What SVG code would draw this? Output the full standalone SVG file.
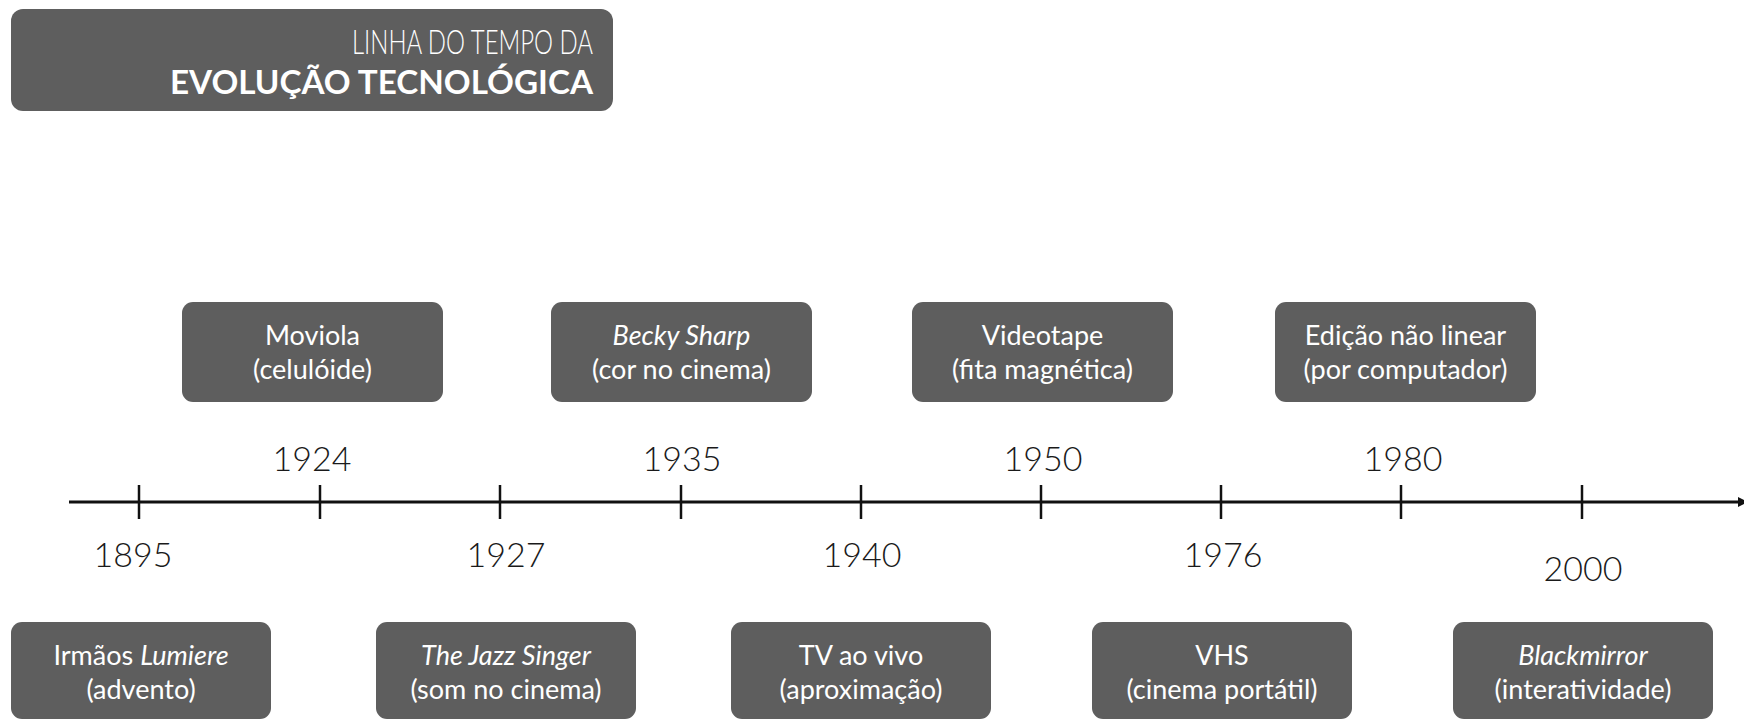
<svg xmlns="http://www.w3.org/2000/svg" width="1744" height="720" viewBox="0 0 1744 720">
<style>
.box{fill:#5e5e5e}
.bt{font-family:Lato,"Liberation Sans",sans-serif;font-size:27px;fill:#ffffff;text-anchor:middle}
.it{font-style:italic}
.yr{font-family:Lato,"Liberation Sans",sans-serif;font-weight:300;font-size:34px;fill:#1a1a1a;text-anchor:middle}
.tick{stroke:#111;stroke-width:2.5}
</style>
<defs>
<marker id="arr" markerWidth="10" markerHeight="10" refX="2" refY="5" orient="auto" markerUnits="userSpaceOnUse">
<path d="M0,0 L10,5 L0,10 Z" fill="#111"/>
</marker>
</defs>
<rect width="1744" height="720" fill="#ffffff"/>
<g id="title">
<rect class="box" x="11" y="9" width="602" height="102" rx="12"/>
<text x="593" y="54" font-family="Lato,'Liberation Sans',sans-serif" font-weight="300" font-size="33" fill="#fff" text-anchor="end" textLength="241" lengthAdjust="spacingAndGlyphs">LINHA DO TEMPO DA</text>
<text x="593" y="94" font-family="Lato,'Liberation Sans',sans-serif" font-weight="700" font-size="32" fill="#fff" text-anchor="end" textLength="423" lengthAdjust="spacingAndGlyphs">EVOLUÇÃO TECNOLÓGICA</text>
</g>
<g id="connectors">
<line x1="69" y1="502" x2="1740" y2="502" stroke="#111" stroke-width="3" marker-end="url(#arr)"/>
<line class="tick" x1="139" y1="485" x2="139" y2="519"/>
<line class="tick" x1="320" y1="485" x2="320" y2="519"/>
<line class="tick" x1="500" y1="485" x2="500" y2="519"/>
<line class="tick" x1="681" y1="485" x2="681" y2="519"/>
<line class="tick" x1="861" y1="485" x2="861" y2="519"/>
<line class="tick" x1="1041" y1="485" x2="1041" y2="519"/>
<line class="tick" x1="1221" y1="485" x2="1221" y2="519"/>
<line class="tick" x1="1401" y1="485" x2="1401" y2="519"/>
<line class="tick" x1="1582" y1="485" x2="1582" y2="519"/>
</g>
<g id="years">
<text class="yr" x="312" y="471">1924</text>
<text class="yr" x="682" y="471">1935</text>
<text class="yr" x="1043" y="471">1950</text>
<text class="yr" x="1403" y="471">1980</text>
<text class="yr" x="133" y="567">1895</text>
<text class="yr" x="506" y="567">1927</text>
<text class="yr" x="862" y="567">1940</text>
<text class="yr" x="1223" y="567">1976</text>
<text class="yr" x="1583" y="581">2000</text>
</g>
<g id="n1924">
<rect class="box" x="182" y="302" width="261" height="100" rx="11"/>
<text class="bt" x="312.5" y="345">Moviola</text>
<text class="bt" x="312.5" y="379">(celulóide)</text>
</g>
<g id="n1935">
<rect class="box" x="551" y="302" width="261" height="100" rx="11"/>
<text class="bt it" x="681.5" y="345">Becky Sharp</text>
<text class="bt" x="681.5" y="379">(cor no cinema)</text>
</g>
<g id="n1950">
<rect class="box" x="912" y="302" width="261" height="100" rx="11"/>
<text class="bt" x="1042.5" y="345">Videotape</text>
<text class="bt" x="1042.5" y="379">(fita magnética)</text>
</g>
<g id="n1980">
<rect class="box" x="1275" y="302" width="261" height="100" rx="11"/>
<text class="bt" x="1405.5" y="345">Edição não linear</text>
<text class="bt" x="1405.5" y="379">(por computador)</text>
</g>
<g id="n1895">
<rect class="box" x="11" y="622" width="260" height="97" rx="11"/>
<text class="bt" x="141" y="665">Irmãos <tspan class="it">Lumiere</tspan></text>
<text class="bt" x="141" y="699">(advento)</text>
</g>
<g id="n1927">
<rect class="box" x="376" y="622" width="260" height="97" rx="11"/>
<text class="bt it" x="506" y="665">The Jazz Singer</text>
<text class="bt" x="506" y="699">(som no cinema)</text>
</g>
<g id="n1940">
<rect class="box" x="731" y="622" width="260" height="97" rx="11"/>
<text class="bt" x="861" y="665">TV ao vivo</text>
<text class="bt" x="861" y="699">(aproximação)</text>
</g>
<g id="n1976">
<rect class="box" x="1092" y="622" width="260" height="97" rx="11"/>
<text class="bt" x="1222" y="665">VHS</text>
<text class="bt" x="1222" y="699">(cinema portátil)</text>
</g>
<g id="n2000">
<rect class="box" x="1453" y="622" width="260" height="97" rx="11"/>
<text class="bt it" x="1583" y="665">Blackmirror</text>
<text class="bt" x="1583" y="699">(interatividade)</text>
</g>
</svg>
